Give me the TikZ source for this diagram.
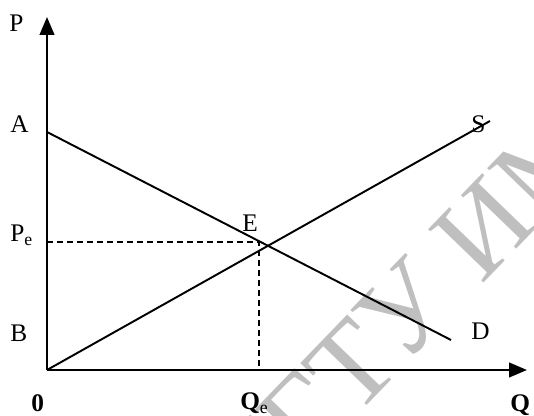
\documentclass[tikz,border=0pt]{standalone}
\usepackage{fontspec}
\setmainfont{Liberation Serif}
\usetikzlibrary{arrows.meta,positioning}

\begin{document}
\begin{tikzpicture}[
      x=0.75pt, y=0.75pt,
      axis/.style={
        line width=1.6pt,
        -{Triangle[length=13.5pt,width=11pt]}
      },
      curve/.style={line width=1.45pt},
      guide/.style={
        line width=1.2pt,
        dash pattern=on 4.5pt off 3pt
      },
      lbl/.style={
        inner sep=0pt,
        anchor=base west,
        font=\fontsize{19}{21}\selectfont
      },
      boldlbl/.style={lbl, font=\fontsize{19}{21}\selectfont\bfseries},
      stamp/.style={
        inner sep=0pt,
        rotate=46,
        text=black!25,
        font=\fontsize{88}{92}\selectfont
      }
    ]
      \path[use as bounding box] (0,0) rectangle (534,416);

      % Watermark
      \begin{scope}
        \clip (0,0) rectangle (534,416);
        \node[stamp] (wm) at (408,108) {ТГТУ ИМ};
      \end{scope}

      % Points
      \coordinate (O) at (47,46);
      \coordinate (ytip) at (47,399);
      \coordinate (xtip) at (527,46);
      \coordinate (Ad) at (47,284);
      \coordinate (Dd) at (451,76);
      \coordinate (Ss) at (490,295);
      \coordinate (Pe) at (47,174);
      \coordinate (Ec) at (259,174);
      \coordinate (Qe) at (259,46);

      % Axes
      \draw[axis] (O) -- (ytip);
      \draw[axis] (O) -- (xtip);

      % Demand and supply
      \draw[curve] (Ad) -- (Dd);
      \draw[curve] (O) -- (Ss);

      % Equilibrium guides
      \draw[guide] (Pe) -- (Ec) -- (Qe);

      % Labels
      \node[lbl] (lP) at (9,384) {P};
      \node[lbl] (lA) at (10,283) {A};
      \node[lbl] (lPe) at (10,174) {P\textsubscript{e}};
      \node[lbl] (lB) at (10,74) {B};
      \node[lbl] (lE) at (242,184) {E};
      \node[lbl] (lS) at (471,283) {S};
      \node[lbl] (lD) at (471,76) {D};
      \node[boldlbl] (l0) at (31,4) {0};
      \node[boldlbl] (lQe) at (240,6) {Q\textsubscript{\mdseries e}};
      \node[boldlbl] (lQ) at (510,4) {Q};
    \end{tikzpicture}
\end{document}
